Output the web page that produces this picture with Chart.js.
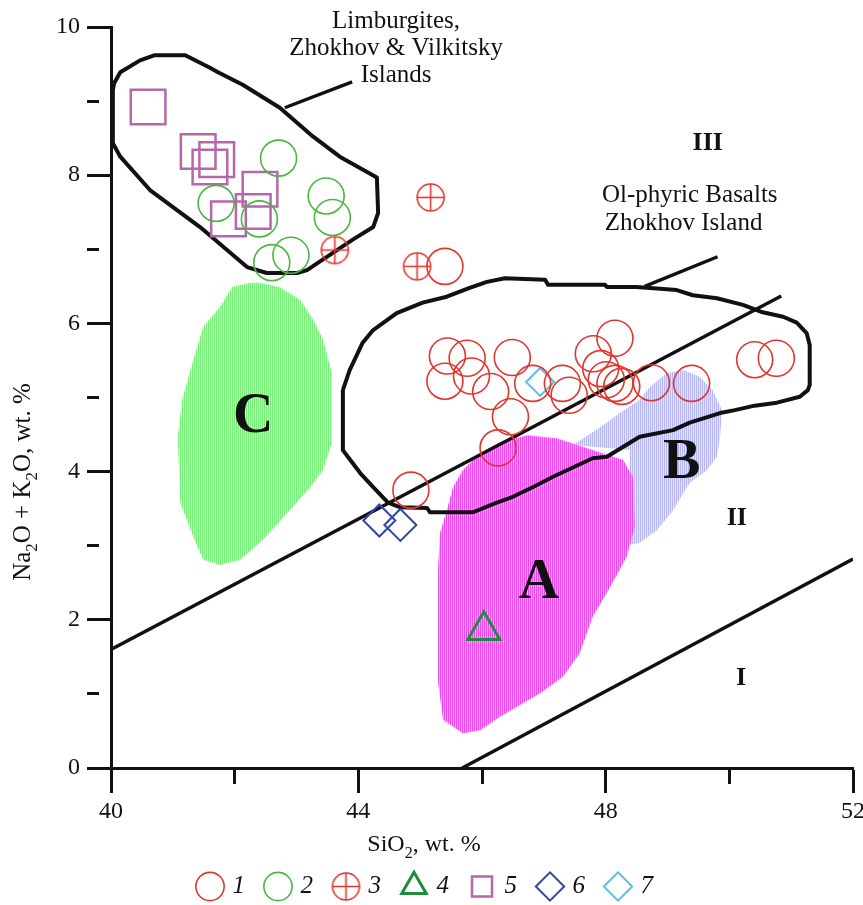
<!DOCTYPE html>
<html>
<head>
<meta charset="utf-8">
<title>TAS diagram, Zhokhov and Vilkitsky Islands</title>
<script src="https://cdn.jsdelivr.net/npm/chart.js@4.4.1/dist/chart.umd.min.js"></script>
<style>
  html, body { margin: 0; padding: 0; background: #fff; }
  #wrap { width: 863px; height: 905px; }
</style>
</head>
<body>
<div id="wrap"><canvas id="tas" width="863" height="905"></canvas></div>
<script>
// ---------- axis ----------
const xRange = [40, 52];
const yRange = [0, 10];
const xLabelled = [40, 44, 48, 52];
const yLabelled = [0, 2, 4, 6, 8, 10];
const legendLabels = ['1', '2', '3', '4', '5', '6', '7'];

// ---------- samples: [SiO2, Na2O + K2O] ----------
const group1 = [
  [45.40, 6.77], [45.44, 5.56], [45.76, 5.53], [46.49, 5.54], [45.40, 5.22],
  [45.83, 5.29], [46.14, 5.08], [46.46, 4.74], [46.26, 4.32], [46.82, 5.19],
  [47.30, 5.19], [47.41, 5.03], [47.80, 5.59], [48.15, 5.80], [47.92, 5.39],
  [48.01, 5.24], [48.15, 5.19], [48.26, 5.15], [48.74, 5.20], [49.39, 5.19],
  [50.41, 5.51], [50.76, 5.53], [44.85, 3.75]
];
const group2 = [
  [42.71, 8.23], [41.70, 7.62], [42.40, 7.41], [43.48, 7.72], [43.58, 7.43],
  [42.60, 6.82], [42.91, 6.92]
];
const group3 = [[43.62, 6.99], [45.17, 7.70], [44.95, 6.77]];
const group4 = [[46.03, 1.86]];
const group5 = [
  [40.60, 8.92], [41.41, 8.32], [41.71, 8.21], [41.60, 8.11], [42.41, 7.81],
  [41.90, 7.41], [42.30, 7.51]
];
const group6 = [[44.34, 3.34], [44.68, 3.28]];
const group7 = [[46.94, 5.21]];

// ---------- fields ----------
const limburgiteField = [
  [40.05, 9.24], [40.15, 9.39], [40.47, 9.55], [40.71, 9.62], [41.20, 9.62],
  [41.60, 9.45], [41.73, 9.39], [42.13, 9.22], [42.73, 8.91], [43.27, 8.52],
  [43.70, 8.25], [44.30, 7.97], [44.32, 7.49], [44.24, 7.30], [43.91, 7.13],
  [43.17, 6.72], [43.01, 6.68], [42.52, 6.68], [42.20, 6.76], [41.44, 7.30],
  [40.63, 7.80], [40.15, 8.25], [40.03, 8.43], [40.03, 9.15], [40.05, 9.24]
];
const olBasaltField = [
  [43.75, 5.10], [43.86, 5.37], [44.07, 5.74], [44.24, 5.91], [44.62, 6.14],
  [45.04, 6.28], [45.43, 6.36], [45.80, 6.48], [46.08, 6.56], [46.37, 6.61],
  [47.02, 6.59], [47.07, 6.52], [47.99, 6.52], [48.02, 6.49], [48.50, 6.49],
  [49.15, 6.45], [49.41, 6.38], [49.80, 6.34], [50.22, 6.25], [50.54, 6.15],
  [50.87, 6.09], [51.09, 6.01], [51.25, 5.87], [51.30, 5.71], [51.30, 5.17],
  [51.27, 5.10], [51.14, 5.01], [50.77, 4.93], [50.41, 4.89], [50.09, 4.83],
  [49.85, 4.79], [49.36, 4.66], [49.09, 4.56], [48.55, 4.47], [48.02, 4.20],
  [47.79, 4.18], [47.15, 3.93], [46.82, 3.79], [46.50, 3.66], [46.24, 3.58],
  [45.85, 3.45], [45.16, 3.45], [45.11, 3.51], [44.67, 3.52], [44.48, 3.58],
  [44.24, 3.79], [44.03, 3.98], [43.83, 4.20], [43.75, 4.29], [43.75, 4.97],
  [43.75, 5.10]
];
const fieldA = [
  [46.73, 4.49], [47.21, 4.45], [47.79, 4.29], [48.28, 4.16], [48.44, 3.93],
  [48.47, 3.25], [48.34, 2.85], [48.07, 2.44], [47.79, 2.04], [47.58, 1.55],
  [47.31, 1.23], [46.94, 1.01], [46.29, 0.69], [45.97, 0.51], [45.69, 0.47],
  [45.37, 0.65], [45.29, 1.15], [45.29, 2.71], [45.32, 3.17], [45.43, 3.48],
  [45.53, 3.79], [45.69, 4.02], [45.97, 4.25], [46.29, 4.40]
];
const fieldB = [
  [47.47, 4.36], [47.91, 4.60], [48.23, 4.79], [48.55, 4.97], [48.71, 5.14],
  [48.99, 5.33], [49.25, 5.37], [49.52, 5.28], [49.73, 5.10], [49.88, 4.83],
  [49.85, 4.47], [49.80, 4.20], [49.64, 4.02], [49.36, 3.85], [49.09, 3.48],
  [48.83, 3.21], [48.55, 3.04], [48.39, 3.01], [48.39, 4.29]
];
const fieldC = [
  [42.25, 6.55], [41.96, 6.49], [41.76, 6.22], [41.49, 5.95], [41.33, 5.51],
  [41.15, 4.97], [41.08, 4.47], [41.12, 3.58], [41.33, 3.12], [41.49, 2.81],
  [41.76, 2.74], [42.09, 2.81], [42.46, 3.08], [42.85, 3.44], [43.22, 3.79],
  [43.43, 4.02], [43.57, 4.39], [43.57, 5.33], [43.43, 5.78], [43.27, 6.05],
  [43.06, 6.32], [42.73, 6.49], [42.41, 6.55]
];

// ---------- boundaries and pointers ----------
const boundaryUpper = [[40.00, 1.60], [50.84, 6.37]];
const boundaryLower = [[45.68, 0.00], [52.00, 2.82]];
const limburgitePointer = [[42.81, 8.91], [43.90, 9.26]];
const olBasaltPointer = [[48.63, 6.50], [49.81, 6.90]];

// ---------- text on the plot ----------
const captionLines = [
  ['Limburgites,', 44.61, 9.99],
  ['Zhokhov & Vilkitsky', 44.61, 9.62],
  ['Islands', 44.61, 9.26],
  ['Ol-phyric Basalts', 49.36, 7.64],
  ['Zhokhov Island', 49.26, 7.26]
];
const zoneNames = [['III', 49.65, 8.46], ['II', 50.12, 3.39], ['I', 50.19, 1.23]];
const fieldNames = [['A', 46.92, 2.55], ['B', 49.23, 4.16], ['C', 42.30, 4.79]];

// ---------- helpers ----------
const SERIF = '"Liberation Serif", "Times New Roman", serif';
const INK = '#111';
const toXY = arr => arr.map(([x, y]) => ({ x, y }));

function stipple(c1, c2) {
  const cv = document.createElement('canvas');
  cv.width = 2; cv.height = 2;
  const g = cv.getContext('2d');
  g.fillStyle = c1; g.fillRect(0, 0, 1, 2);
  g.fillStyle = c2; g.fillRect(1, 0, 1, 2);
  return g.createPattern(cv, 'repeat');
}

function crossedCircle(color, r, lw) {
  const s = Math.ceil(2 * r + lw + 2);
  const cv = document.createElement('canvas');
  cv.width = s; cv.height = s;
  const g = cv.getContext('2d');
  const c = s / 2;
  g.strokeStyle = color; g.lineWidth = lw;
  g.beginPath(); g.arc(c, c, r, 0, Math.PI * 2); g.stroke();
  g.beginPath();
  g.moveTo(c - r, c); g.lineTo(c + r, c);
  g.moveTo(c, c - r); g.lineTo(c, c + r);
  g.stroke();
  return cv;
}

const RED = '#e0362d';
const NONE = 'rgba(0,0,0,0)';

function markers(label, data, style, color, radius, width) {
  return {
    type: 'scatter', label, data: toXY(data), order: 0,
    pointStyle: style, pointRadius: radius, pointHoverRadius: radius,
    pointBorderColor: color, borderColor: color, pointBorderWidth: width,
    borderWidth: width, pointBackgroundColor: NONE, backgroundColor: NONE
  };
}
function field(label, data, fill, order) {
  return {
    type: 'line', label, data: toXY(data), order,
    borderWidth: 0, borderColor: NONE, backgroundColor: fill,
    fill: 'shape', pointRadius: 0, tension: 0
  };
}
function outline(label, data, width, order) {
  return {
    type: 'line', label, data: toXY(data), order,
    borderColor: INK, borderWidth: width, fill: false,
    pointRadius: 0, tension: 0, borderJoinStyle: 'round', borderCapStyle: 'butt'
  };
}

const datasets = [
  markers(legendLabels[0], group1, 'circle', RED, 18, 1.6),
  markers(legendLabels[1], group2, 'circle', '#4cb544', 18, 1.6),
  markers(legendLabels[2], group3, crossedCircle(RED, 13.5, 1.6), RED, 14, 1.6),
  markers(legendLabels[3], group4, 'triangle', '#1f8c3c', 18.5, 3),
  markers(legendLabels[4], group5, 'rect', '#b866aa', 24.5, 2.5),
  markers(legendLabels[5], group6, 'rectRot', '#34479b', 16, 2),
  markers(legendLabels[6], group7, 'rectRot', '#5cbde6', 14, 2),
  outline('boundary III/II', boundaryUpper, 3.4, 1),
  outline('boundary II/I', boundaryLower, 3.4, 1),
  outline('Limburgites outline', limburgiteField, 4, 1),
  outline('Ol-phyric basalts outline', olBasaltField, 4, 1),
  outline('Limburgites pointer', limburgitePointer, 3.4, 1),
  outline('Ol-phyric basalts pointer', olBasaltPointer, 3.4, 1),
  field('Field A', fieldA, stipple('rgb(238,70,238)', 'rgb(250,170,250)'), 2),
  field('Field B', fieldB, stipple('rgb(184,184,244)', 'rgb(226,226,252)'), 3),
  field('Field C', fieldC, stipple('rgb(116,238,116)', 'rgb(200,250,200)'), 3)
];

// Text inside the plot and the two axis titles (with subscripts)
function richText(ctx, parts, size, cx, baseline) {
  const sub = Math.round(size * 0.68);
  const widths = parts.map(([t, isSub]) => {
    ctx.font = (isSub ? sub : size) + 'px ' + SERIF;
    return ctx.measureText(t).width;
  });
  let x = cx - widths.reduce((a, b) => a + b, 0) / 2;
  ctx.textAlign = 'left';
  ctx.textBaseline = 'alphabetic';
  parts.forEach(([t, isSub], i) => {
    ctx.font = (isSub ? sub : size) + 'px ' + SERIF;
    ctx.fillText(t, x, baseline + (isSub ? size * 0.28 : 0));
    x += widths[i];
  });
}

const plotText = {
  id: 'plotText',
  afterDatasetsDraw(chart) {
    const { ctx } = chart;
    const sx = chart.scales.x, sy = chart.scales.y;
    ctx.save();
    ctx.fillStyle = INK;
    ctx.textAlign = 'center';
    ctx.textBaseline = 'alphabetic';
    ctx.font = '25px ' + SERIF;
    captionLines.forEach(([t, vx, vy]) =>
      ctx.fillText(t, sx.getPixelForValue(vx), sy.getPixelForValue(vy)));
    ctx.font = 'bold 26px ' + SERIF;
    zoneNames.forEach(([t, vx, vy]) =>
      ctx.fillText(t, sx.getPixelForValue(vx), sy.getPixelForValue(vy) + 26 * 0.33));
    ctx.font = 'bold 56px ' + SERIF;
    fieldNames.forEach(([t, vx, vy]) =>
      ctx.fillText(t, sx.getPixelForValue(vx), sy.getPixelForValue(vy) + 56 * 0.33));
    ctx.restore();
  },
  afterDraw(chart) {
    const { ctx } = chart;
    ctx.save();
    ctx.fillStyle = INK;
    richText(ctx, [['SiO', false], ['2', true], [', wt. %', false]], 24, 424, 851);
    ctx.translate(22, 482);
    ctx.rotate(-Math.PI / 2);
    richText(ctx, [['Na', false], ['2', true], ['O + K', false], ['2', true], ['O, wt. %', false]], 25, 0, 8);
    ctx.restore();
  }
};

Chart.defaults.font.family = SERIF;
Chart.defaults.color = INK;

new Chart(document.getElementById('tas'), {
  type: 'scatter',
  data: { datasets },
  options: {
    responsive: false,
    animation: false,
    devicePixelRatio: 1,
    events: [],
    layout: { autoPadding: false, padding: { top: 27, right: 10, bottom: 0, left: 0 } },
    scales: {
      x: {
        type: 'linear', position: 'bottom', min: xRange[0], max: xRange[1],
        ticks: {
          stepSize: 2, autoSkip: false, maxRotation: 0, padding: 4, color: INK,
          font: { size: 24, family: SERIF },
          callback: v => (xLabelled.includes(v) ? String(v) : '')
        },
        grid: {
          drawOnChartArea: false, drawTicks: true, tickLength: 25, tickWidth: 3, tickColor: INK,
          tickBorderDash: c => (c.tick && !xLabelled.includes(c.tick.value) ? [14, 200] : [])
        },
        border: { display: true, color: INK, width: 3 },
        afterFit: s => { s.height = 83; s.paddingLeft = 0; s.paddingRight = 0; }
      },
      y: {
        type: 'linear', position: 'left', min: yRange[0], max: yRange[1],
        ticks: {
          stepSize: 1, autoSkip: false, padding: 7, color: INK,
          font: { size: 24, family: SERIF },
          callback: v => (yLabelled.includes(v) ? String(v) : '')
        },
        grid: {
          drawOnChartArea: false, drawTicks: true, tickLength: 24, tickWidth: 3, tickColor: INK,
          tickBorderDash: c => (c.tick && !yLabelled.includes(c.tick.value) ? [12, 200] : [])
        },
        border: { display: true, color: INK, width: 3 },
        afterFit: s => { s.width = 111; }
      }
    },
    plugins: {
      tooltip: { enabled: false },
      legend: {
        position: 'bottom', maxHeight: 54,
        labels: {
          usePointStyle: true, boxWidth: 20, boxHeight: 20, padding: 23, color: INK,
          font: { size: 25, style: 'italic', family: SERIF },
          filter: item => item.datasetIndex < legendLabels.length
        }
      }
    }
  },
  plugins: [plotText]
});
</script>
</body>
</html>
